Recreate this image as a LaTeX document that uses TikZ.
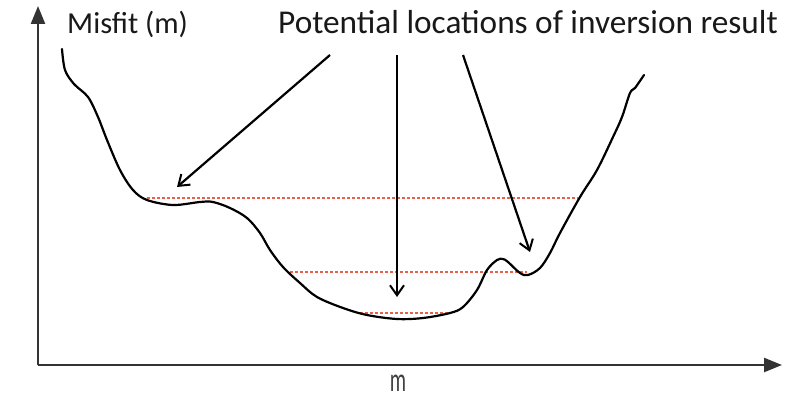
\documentclass[tikz,border=0pt]{standalone}
\usepackage{fontspec}
\setmainfont{Carlito}
\usetikzlibrary{arrows.meta}
\definecolor{axisgray}{HTML}{333333}
\definecolor{dashred}{HTML}{E8604A}
\tikzset{
  axis/.style={draw=axisgray, line width=2.4pt, -{Triangle[length=18pt,width=14pt]}},
  curve/.style={draw=black, line width=2.2pt, line join=round, line cap=round},
  pointer/.style={draw=black, line width=2.2pt, -{Straight Barb[length=10pt,width=14pt,line width=2pt]}},
  level/.style={draw=dashred, line width=1.3pt, dash pattern=on 3pt off 2pt},
  lbl/.style={inner sep=0pt, text=black!90}
}
\begin{document}
\begin{tikzpicture}[x=1pt,y=-1pt]
\useasboundingbox (0,0) rectangle (799,401);
\fill[white] (0,0) rectangle (799,401);
% axes
\coordinate (O) at (38,365);
\coordinate (ytop) at (38,6);
\coordinate (xend) at (782,365);
\draw[axis] (O) -- (ytop);
\draw[axis] (O) -- (xend);
% labels
\node[lbl, anchor=base west, font=\fontsize{30.5}{34}\selectfont] (misfit) at (67,34) {Misfit (m)};
\node[lbl, anchor=base west, font=\fontsize{33.3}{36}\selectfont] (title) at (278,34) {Potential locations of inversion result};
\node[inner sep=0pt, text=black!75, font=\fontsize{34}{36}\selectfont] (mlbl) at (398,383) {\scalebox{0.6}[1]{m}};
% dashed levels
\coordinate (l1a) at (147,198); \coordinate (l1b) at (578,198);
\coordinate (l2a) at (290,272); \coordinate (l2b) at (527,272);
\coordinate (l3a) at (360,313); \coordinate (l3b) at (448,313);
\draw[level] (l1a) -- (l1b);
\draw[level] (l2a) -- (l2b);
\draw[level] (l3a) -- (l3b);
% curve
\draw[curve] plot[smooth, tension=0.55] coordinates {
(62,49) (65,70) (74,84) (88,97) (98,117) (107,140) (120,170) (133,190)
(147,200) (173,205) (200,202) (213,202) (230,208) (247,218) (260,233)
(270,250) (283,267) (300,283) (317,297) (343,308) (367,315) (397,319)
(423,318) (450,313) (463,307) (477,290) (487,270) (497,260) (503,259)
(508,262) (520,273) (528,275) (540,268) (550,253) (560,233) (580,197)
(597,170) (613,137) (622,117) (630,93) (635,88) (644,75)};
% pointers
\coordinate (p1s) at (330,55); \coordinate (p1e) at (177,187);
\coordinate (p2s) at (397,55); \coordinate (p2e) at (397,297);
\coordinate (p3s) at (463,55); \coordinate (p3e) at (530,252);
\draw[pointer] (p1s) -- (p1e);
\draw[pointer] (p2s) -- (p2e);
\draw[pointer] (p3s) -- (p3e);
\end{tikzpicture}
\end{document}
